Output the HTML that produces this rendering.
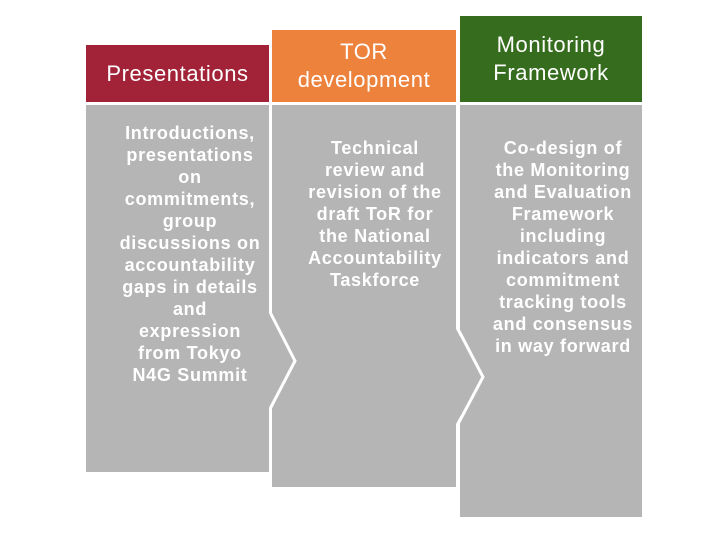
<!DOCTYPE html>
<html><head><style>
body{margin:0;width:724px;height:536px;background:#fff;position:relative;overflow:hidden;font-family:"Liberation Sans",sans-serif}
.h{position:absolute;color:#fff;font-size:22px;line-height:28px;letter-spacing:0.6px;text-align:center;display:flex;align-items:center;justify-content:center}
.t{position:absolute;color:#fff;font-weight:bold;font-size:18px;line-height:22px;letter-spacing:0.7px;text-align:center;white-space:nowrap}
</style></head><body>
<div class="h" style="left:86px;top:45px;width:183px;height:57px;background:#A22238">Presentations</div>
<div class="h" style="left:272px;top:30px;width:184px;height:72px;background:#ED823D">TOR<br>development</div>
<div class="h" style="left:460px;top:16px;width:182px;height:86px;background:#366C1E">Monitoring<br>Framework</div>
<svg width="724" height="536" style="position:absolute;left:0;top:0">
<rect x="86" y="105" width="183" height="367" fill="#b5b5b5"/>
<rect x="272" y="105" width="184" height="382" fill="#b5b5b5"/>
<rect x="460" y="105" width="182" height="412" fill="#b5b5b5"/>
<polygon points="269,313 294,361 269,408" fill="#b5b5b5"/>
<polygon points="456,329 482,377 456,424" fill="#b5b5b5"/>
<polyline points="270.5,313 295,361 270.5,408" fill="none" stroke="#fff" stroke-width="3"/>
<polyline points="458,329 483,377 458,424" fill="none" stroke="#fff" stroke-width="3"/>
</svg>
<div class="t" style="left:95px;top:122px;width:190px">Introductions,<br>presentations<br>on<br>commitments,<br>group<br>discussions on<br>accountability<br>gaps in details<br>and<br>expression<br>from Tokyo<br>N4G Summit</div>
<div class="t" style="left:280px;top:137px;width:190px">Technical<br>review and<br>revision of the<br>draft ToR for<br>the National<br>Accountability<br>Taskforce</div>
<div class="t" style="left:468px;top:137px;width:190px">Co-design of<br>the Monitoring<br>and Evaluation<br>Framework<br>including<br>indicators and<br>commitment<br>tracking tools<br>and consensus<br>in way forward</div>
</body></html>
